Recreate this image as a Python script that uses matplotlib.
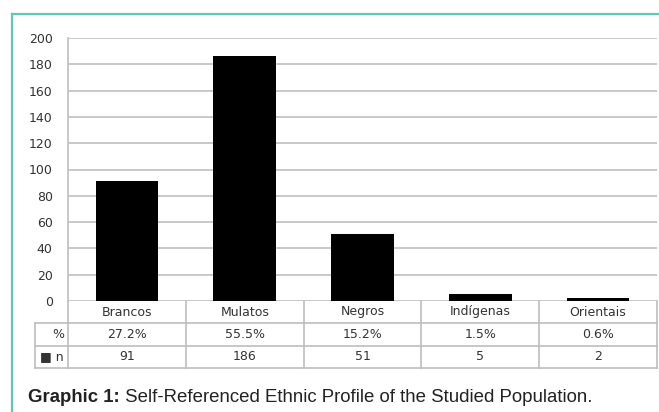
import matplotlib
matplotlib.use("Agg")
import matplotlib.pyplot as plt
from matplotlib.lines import Line2D
import matplotlib.transforms as mtransforms

categories = ["Brancos", "Mulatos", "Negros", "Indígenas", "Orientais"]
counts = [91, 186, 51, 5, 2]
percents = ["27.2%", "55.5%", "15.2%", "1.5%", "0.6%"]
yticks = [0, 20, 40, 60, 80, 100, 120, 140, 160, 180, 200]
row_labels = ["%", "\u25a0 n"]
caption_bold = "Graphic 1:"
caption_text = " Self-Referenced Ethnic Profile of the Studied Population."

W, H = 659, 412
fig = plt.figure(figsize=(W / 100, H / 100), dpi=100)
fig.patch.set_facecolor("white")

teal = "#5ec9b4"
grid_c = "#bfbfbf"
text_c = "#333333"

# outer teal frame (top and left)
fig.add_artist(Line2D([12 / W, 1], [1 - 14 / H, 1 - 14 / H], color=teal, lw=1.6, transform=fig.transFigure))
fig.add_artist(Line2D([12 / W, 12 / W], [0, 1 - 14 / H], color=teal, lw=1.6, transform=fig.transFigure))

x0, x1 = 68, 657
y_top, y_zero = 38, 301
ax = fig.add_axes([x0 / W, 1 - y_zero / H, (x1 - x0) / W, (y_zero - y_top) / H])
ax.set_xlim(-0.5, len(categories) - 0.5)
ax.set_ylim(0, 200)

xs = list(range(len(categories)))
ax.bar(xs, counts, width=0.53, color="black", zorder=3)

ax.set_yticks(yticks)
ax.set_yticklabels([str(v) for v in yticks], fontsize=9, color=text_c, family="DejaVu Sans")
ax.tick_params(axis="y", length=0, pad=11)
ax.tick_params(axis="x", length=0, labelbottom=False)
ax.grid(axis="y", color=grid_c, lw=1.2, zorder=0)
for s in ["top", "right", "bottom"]:
    ax.spines[s].set_visible(False)
ax.spines["left"].set_color(grid_c)
ax.spines["left"].set_linewidth(1.2)

# table under axis
ah = y_zero - y_top
r1 = -(323 - y_zero) / ah
r2 = -(346 - y_zero) / ah
r3 = -(368 - y_zero) / ah
lab_left = (35 - x0) / (x1 - x0)

blend = mtransforms.blended_transform_factory(ax.transData, ax.transAxes)
tcol = "#bdbdbd"
lw = 1.2
for yy in [r1, r2, r3]:
    ax.add_line(Line2D([lab_left, 1], [yy, yy], color=tcol, lw=lw, transform=ax.transAxes, clip_on=False))
for i in range(len(categories) + 1):
    xv = i - 0.5
    ax.add_line(Line2D([xv, xv], [0, r3], color=tcol, lw=lw, transform=blend, clip_on=False))
ax.add_line(Line2D([lab_left, lab_left], [r1, r3], color=tcol, lw=lw, transform=ax.transAxes, clip_on=False))

fs = 9
for i, (c, p, n) in enumerate(zip(categories, percents, counts)):
    ax.text(i, (0 + r1) / 2, c, transform=blend, ha="center", va="center", fontsize=fs, color=text_c)
    ax.text(i, (r1 + r2) / 2, p, transform=blend, ha="center", va="center", fontsize=fs, color=text_c)
    ax.text(i, (r2 + r3) / 2, str(n), transform=blend, ha="center", va="center", fontsize=fs, color=text_c)

lab_x = -4 / (x1 - x0)
ax.text(lab_x, (r1 + r2) / 2, row_labels[0], transform=ax.transAxes, ha="right", va="center", fontsize=fs, color=text_c)
ax.text(lab_x, (r2 + r3) / 2, row_labels[1], transform=ax.transAxes, ha="right", va="center", fontsize=fs, color=text_c)

# caption
t = fig.text(28 / W, 1 - 402 / H, caption_bold, fontsize=13.4, fontweight="bold", family="Liberation Sans", color="#222222", va="baseline")
fig.canvas.draw()
bb = t.get_window_extent()
fig.text(bb.x1 / W, 1 - 402 / H, caption_text, fontsize=13.4, family="Liberation Sans", color="#222222", va="baseline")

fig.savefig("out.png", dpi=100, facecolor="white")
